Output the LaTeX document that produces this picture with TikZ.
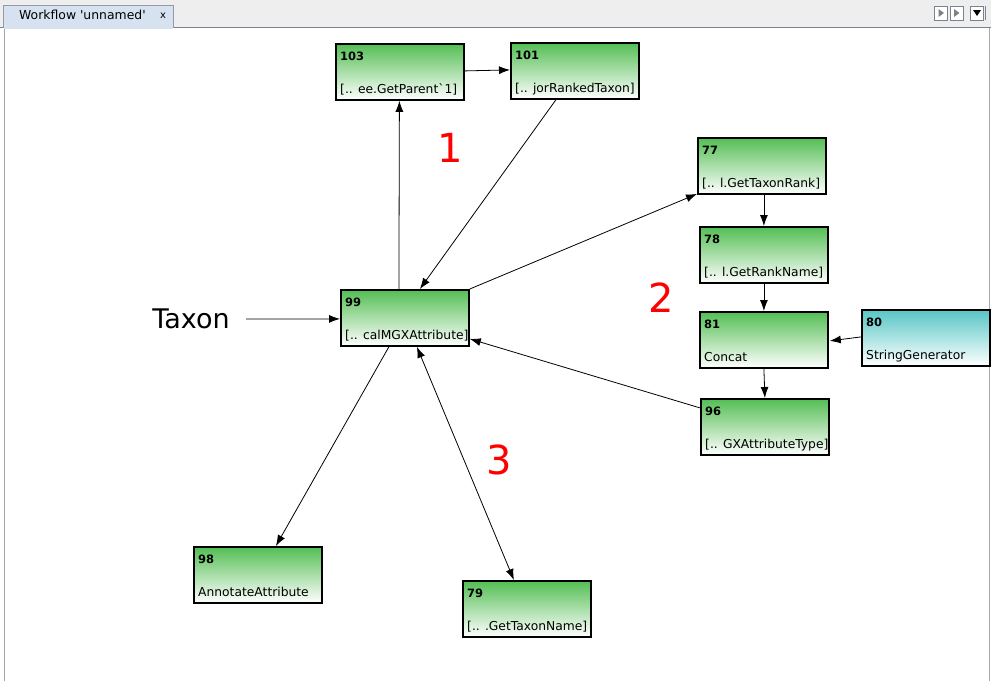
\documentclass[tikz,border=0pt]{standalone}
\usepackage{fontspec}
\setmainfont{DejaVu Sans}
\usetikzlibrary{arrows.meta}
\definecolor{wfgreen}{RGB}{84,190,84}
\definecolor{wfcyan}{RGB}{88,198,198}
\definecolor{tabbg}{RGB}{238,238,238}
\definecolor{tabsel}{RGB}{214,226,240}
\definecolor{framec}{RGB}{120,130,145}
\tikzset{
  wftip/.tip={Latex[length=11pt,width=8pt]},
  wfbox/.style={draw=black, line width=1.8pt, inner sep=0pt, anchor=north west,
    minimum width=128pt, minimum height=56pt, top color=#1, bottom color=white},
  wfnum/.style={anchor=base west, inner sep=0pt, font=\fontsize{11.5}{12}\selectfont\bfseries},
  wflab/.style={anchor=base west, inner sep=0pt, font=\fontsize{12.3}{14}\selectfont},
  wfarrow/.style={-wftip, line width=0.8pt},
  wfdouble/.style={wftip-wftip, line width=0.8pt},
  bignum/.style={text=red, font=\fontsize{40}{44}\selectfont, inner sep=0pt}
}
\newcommand{\wfnode}[6]{%
  \node[wfbox=#6] (#1) at (#2,#3) {};
  \node[wfnum] (#1n) at ([xshift=5pt,yshift=-17pt]#1.north west) {#4};
  \node[wflab] (#1l) at ([xshift=5pt,yshift=-50pt]#1.north west) {#5};
}
\begin{document}
\begin{tikzpicture}[x=1pt,y=-1pt]
\useasboundingbox (0,0) rectangle (991,681);
% window chrome
\fill[tabbg] (0,0) rectangle (991,28);
\draw[framec, line width=1pt] (0,27.5) -- (991,27.5);
\fill[white] (4,28) rectangle (989,681);
\draw[framec!70, line width=1pt] (4,28) -- (4,681);
\draw[framec!70, line width=1pt] (989,28) -- (989,681);
\node[draw=framec!80, fill=tabsel, line width=0.6pt, anchor=north west, minimum width=170pt, minimum height=22pt, inner sep=0pt] (tab) at (3,5) {};
\fill[tabsel] (3.5,25) rectangle (172.5,28.5);
\node[anchor=west, inner sep=0pt, font=\fontsize{12.4}{13}\selectfont] (tabt) at (19,15) {Workflow \textquotesingle unnamed\textquotesingle};
\node[anchor=west, inner sep=0pt, font=\fontsize{10}{12}\selectfont] (tabx) at (160,16) {x};
\node[draw=framec, fill=white, minimum width=13pt, minimum height=14pt, inner sep=0pt] (bl) at (941,13) {};
\node[draw=framec, fill=white, minimum width=13pt, minimum height=14pt, inner sep=0pt] (br) at (957,13) {};
\node[draw=framec, fill=white, minimum width=13pt, minimum height=14pt, inner sep=0pt] (bd) at (977,13) {};
\fill[gray] (944,13) -- (938.5,9) -- (938.5,17) -- cycle;
\fill[gray] (954,9) -- (959.5,13) -- (954,17) -- cycle;
\fill[black] (973,10) -- (981,10) -- (977,16) -- cycle;
\draw[framec] (985,6) -- (985,20);
% nodes
\wfnode{n103}{335}{43}{103}{[.. ee.GetParent\textasciigrave 1]}{wfgreen}
\wfnode{n101}{510}{42}{101}{[.. jorRankedTaxon]}{wfgreen}
\wfnode{n77}{697}{137}{77}{[.. l.GetTaxonRank]}{wfgreen}
\wfnode{n78}{699}{226}{78}{[.. l.GetRankName]}{wfgreen}
\wfnode{n81}{699}{311}{81}{Concat}{wfgreen}
\wfnode{n80}{861}{309}{80}{StringGenerator}{wfcyan}
\wfnode{n96}{700}{398}{96}{[.. GXAttributeType]}{wfgreen}
\wfnode{n99}{340}{289}{99}{[.. calMGXAttribute]}{wfgreen}
\wfnode{n98}{193}{546}{98}{AnnotateAttribute}{wfgreen}
\wfnode{n79}{462}{580}{79}{[.. .GetTaxonName]}{wfgreen}
% labels
\node[inner sep=0pt, font=\fontsize{27}{30}\selectfont] (taxon) at (191,319) {Taxon};
\node[bignum] (one) at (450,148) {1};
\node[bignum] (two) at (661,298) {2};
\node[bignum] (three) at (499,460) {3};
% connectors
\coordinate (tx) at (246,319);
\draw[wfarrow] (tx) -- ([yshift=-1pt]n99.west);
\draw[wfarrow] ([xshift=-6pt]n99.north) -- ([xshift=-0.5pt]n103.south);
\draw[wfarrow] ([yshift=1pt]n103.east) -- ([yshift=1pt]n101.west);
\draw[wfarrow] ([xshift=-19pt]n101.south) -- ([xshift=15pt]n99.north);
\draw[wfarrow] (n99.north east) -- ([yshift=-28pt]n77.west);
\draw[wfarrow] ([xshift=2pt]n77.south) -- (n78.north);
\draw[wfarrow] (n78.south) -- (n81.north);
\draw[wfarrow] ([yshift=1pt]n80.west) -- ([xshift=1pt,yshift=-1pt]n81.east);
\draw[wfarrow] (n81.south) -- (n96.north);
\draw[wfarrow] ([yshift=19pt]n96.west) -- ([yshift=-21pt]n99.east);
\draw[wfarrow] ([xshift=-16pt]n99.south) -- ([xshift=18pt]n98.north);
\draw[wfdouble] ([xshift=12pt]n99.south) -- ([xshift=-13pt]n79.north);
\end{tikzpicture}
\end{document}
